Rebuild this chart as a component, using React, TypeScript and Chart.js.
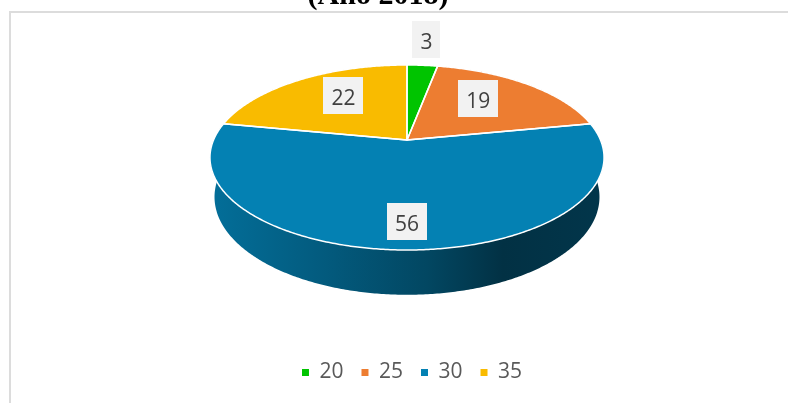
import React, { useEffect, useRef } from "react";
import { Chart, registerables } from "chart.js";

Chart.register(...registerables);

// ---- data ----
const categories = ["20", "25", "30", "35"];
const values = [3, 19, 56, 22];
const sliceColors = ["#00c400", "#ed7d31", "#0481b3", "#f9bb00"];
const titleText = "(Año 2018)";

// ---- 3D projection settings ----
const CX = 407;
const CY = 140;
const TILT = (27.45 * Math.PI) / 180;
const DIST = 4.691;
const FOCAL = 907.6;
const THICK = 0.232;
const SIN_T = Math.sin(TILT);
const COS_T = Math.cos(TILT);
const FONT_SIZE = 21;

function proj(a: number, r: number, h: number): [number, number] {
  const X = r * Math.cos(a);
  const Z = -r * Math.sin(a);
  const v = Z * SIN_T - h * COS_T;
  const w = DIST + Z * COS_T + h * SIN_T;
  return [CX + (FOCAL * X) / w, CY - (FOCAL * v) / w];
}

function shade(hex: string, f: number): string {
  const n = parseInt(hex.slice(1), 16);
  const r = Math.round(((n >> 16) & 255) * f);
  const g = Math.round(((n >> 8) & 255) * f);
  const b = Math.round((n & 255) * f);
  return `rgb(${r},${g},${b})`;
}

const pie3d = {
  id: "pie3d",
  beforeDatasetDraw(chart: any, args: any) {
    const ctx: CanvasRenderingContext2D = chart.ctx;
    const meta = chart.getDatasetMeta(args.index);
    const arcs = meta.data.map((el: any, i: number) => {
      const p = el.getProps(["startAngle", "endAngle"], true);
      return { i, s: p.startAngle as number, e: p.endAngle as number };
    });
    const steps = (s: number, e: number) => Math.max(2, Math.ceil((e - s) / 0.01));

    ctx.save();
    // side walls
    arcs.forEach(({ i, s, e }: any) => {
      const N = steps(s, e);
      ctx.beginPath();
      for (let k = 0; k <= N; k++) {
        const [x, y] = proj(s + ((e - s) * k) / N, 1, 0);
        if (k === 0) ctx.moveTo(x, y);
        else ctx.lineTo(x, y);
      }
      for (let k = N; k >= 0; k--) {
        const [x, y] = proj(s + ((e - s) * k) / N, 1, THICK);
        ctx.lineTo(x, y);
      }
      ctx.closePath();
      const base = sliceColors[i];
      const g = ctx.createLinearGradient(CX - 200, 0, CX + 200, 0);
      g.addColorStop(0, shade(base, 0.86));
      g.addColorStop(0.3, shade(base, 0.7));
      g.addColorStop(0.55, shade(base, 0.55));
      g.addColorStop(0.74, shade(base, 0.38));
      g.addColorStop(1, shade(base, 0.42));
      ctx.fillStyle = g;
      ctx.fill();
    });

    // top faces
    const topPath = (s: number, e: number) => {
      const N = steps(s, e);
      ctx.beginPath();
      ctx.moveTo(CX, CY);
      for (let k = 0; k <= N; k++) {
        const [x, y] = proj(s + ((e - s) * k) / N, 1, 0);
        ctx.lineTo(x, y);
      }
      ctx.closePath();
    };
    arcs.forEach(({ i, s, e }: any) => {
      topPath(s, e);
      ctx.fillStyle = sliceColors[i];
      ctx.fill();
    });
    ctx.strokeStyle = "#ffffff";
    ctx.lineWidth = 1.5;
    ctx.lineJoin = "round";
    arcs.forEach(({ s, e }: any) => {
      topPath(s, e);
      ctx.stroke();
    });

    // data labels
    ctx.font = `${FONT_SIZE}px "Open Sans"`;
    arcs.forEach(({ i, s, e }: any) => {
      const text = String(values[i]);
      const tw = ctx.measureText(text).width;
      const bw = tw + 16;
      const bh = 37;
      const mid = (s + e) / 2;
      const [px, py] = proj(mid, 1, 0);
      let lx: number;
      let ly: number;
      if ((e - s) / (2 * Math.PI) < 0.05) {
        const dx = px - CX;
        const dy = py - CY;
        const len = Math.hypot(dx, dy);
        const ux = dx / len;
        const uy = dy / len;
        const t =
          Math.min(
            Math.abs(ux) > 1e-6 ? bw / 2 / Math.abs(ux) : 1e9,
            Math.abs(uy) > 1e-6 ? bh / 2 / Math.abs(uy) : 1e9
          ) + 7;
        lx = px + ux * t * 0.8;
        ly = py + uy * t;
      } else {
        lx = CX + (px - CX) * 0.59;
        ly = CY + (py - CY) * 0.74;
      }
      ctx.fillStyle = "#f2f2f2";
      ctx.fillRect(Math.round(lx - bw / 2), Math.round(ly - bh / 2), Math.round(bw), bh);
      ctx.fillStyle = "#404040";
      ctx.textAlign = "center";
      ctx.textBaseline = "alphabetic";
      ctx.fillText(text, lx, ly + 9.5);
    });
    ctx.restore();
    return false;
  },
};

export default function App() {
  const canvasRef = useRef<HTMLCanvasElement | null>(null);

  useEffect(() => {
    const canvas = canvasRef.current;
    if (!canvas) return;
    const chart = new Chart(canvas, {
      type: "pie",
      data: {
        labels: categories,
        datasets: [
          {
            data: values,
            backgroundColor: sliceColors,
            borderWidth: 0,
          },
        ],
      },
      options: {
        responsive: false,
        maintainAspectRatio: false,
        animation: false,
        devicePixelRatio: 1,
        layout: { padding: { left: 36, right: 0, top: 0, bottom: 10 } },
        plugins: {
          tooltip: { enabled: false },
          title: { display: false },
          legend: {
            display: true,
            position: "bottom",
            labels: {
              boxWidth: 7,
              boxHeight: 7,
              padding: 18,
              color: "#595959",
              font: { family: '"Open Sans"', size: FONT_SIZE },
            },
          },
        },
      },
      plugins: [pie3d],
    });
    return () => chart.destroy();
  }, []);

  return (
    <div
      style={{
        position: "fixed",
        left: 0,
        top: 0,
        width: 788,
        height: 403,
        overflow: "hidden",
        background: "#ffffff",
      }}
    >
      <div
        style={{
          position: "absolute",
          left: 9,
          top: 11,
          width: 900,
          height: 500,
          borderTop: "2px solid #dcdcdc",
          borderLeft: "2px solid #dcdcdc",
          boxSizing: "border-box",
        }}
      />
      <canvas
        ref={canvasRef}
        width={788}
        height={403}
        style={{ position: "absolute", left: 0, top: 0, width: 788, height: 403 }}
      />
      <div
        style={{
          position: "absolute",
          left: 0,
          top: -21,
          width: 756,
          textAlign: "center",
          fontFamily: '"Liberation Serif", "Times New Roman", serif',
          fontWeight: "bold",
          fontSize: 30,
          lineHeight: "30px",
          color: "#000000",
          whiteSpace: "nowrap",
        }}
      >
        {titleText}
      </div>
    </div>
  );
}
